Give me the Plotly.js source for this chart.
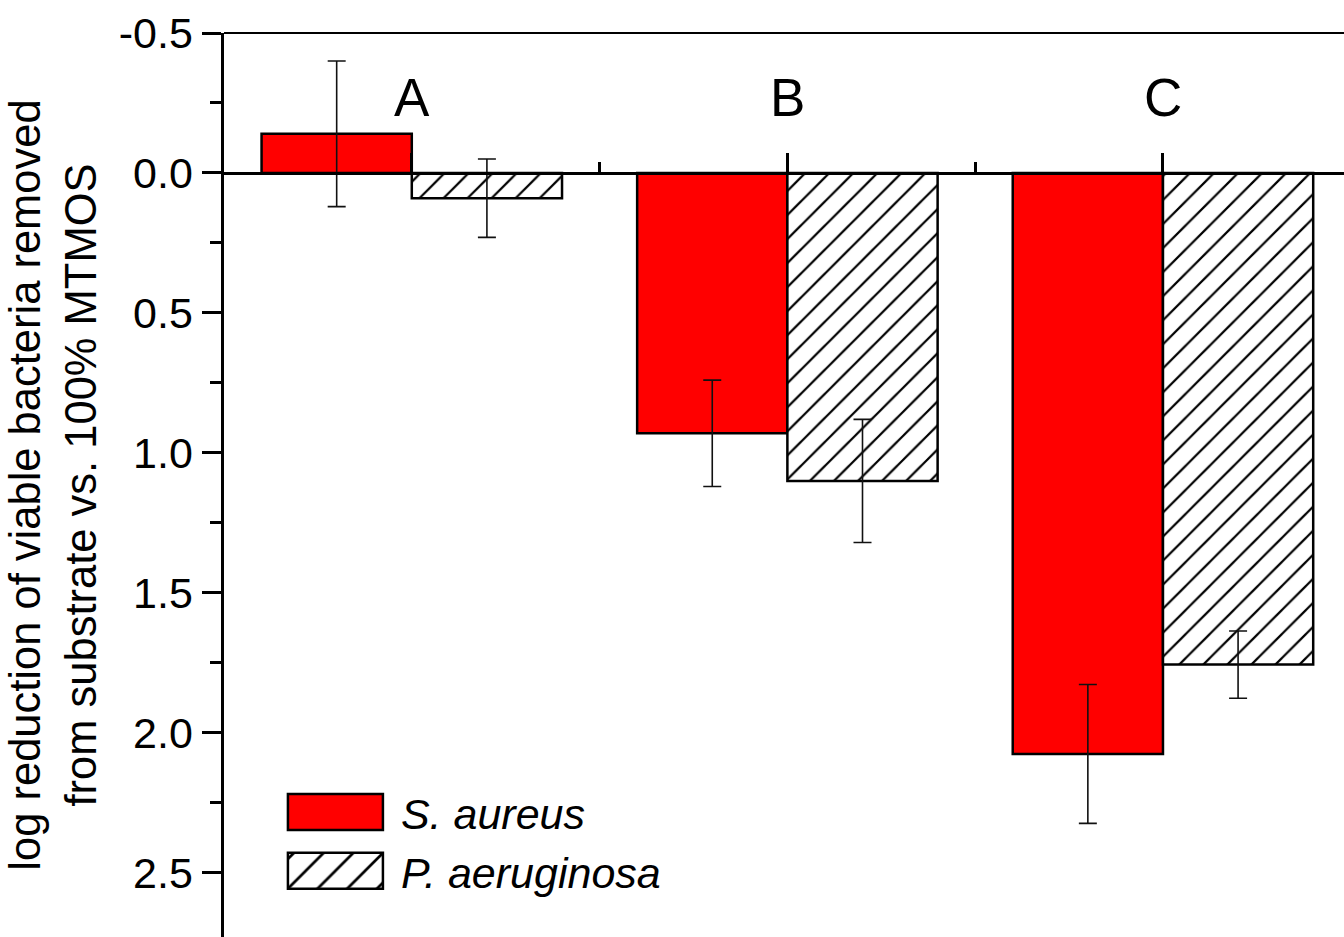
<!DOCTYPE html>
<html><head><meta charset="utf-8">
<script src="https://cdn.plot.ly/plotly-3.0.1.min.js"></script>
<style>html,body{margin:0;padding:0;background:#fff;} #chart{width:1344px;height:937px;}</style>
</head><body><div id="chart"></div>
<script>
const categories = ['A', 'B', 'C'];
const seriesNames = ['S. aureus', 'P. aeruginosa'];
const saureus = [-0.14, 0.93, 2.075];
const saureusErr = [0.26, 0.19, 0.248];
const paerug = [0.09, 1.10, 1.756];
const paerugErr = [0.14, 0.22, 0.12];
const yTickVals = [-0.5, 0, 0.5, 1, 1.5, 2, 2.5];
const yTickText = ['-0.5', '0.0', '0.5', '1.0', '1.5', '2.0', '2.5'];
const yMinorVals = [-0.25, 0.25, 0.75, 1.25, 1.75, 2.25];
const yTitle = 'log reduction of viable bacteria removed<br>from substrate vs. 100% MTMOS';

const FONT = 'Liberation Sans, Arial, sans-serif';
const xIdx = categories.map((c, i) => i);
const xMinorVals = categories.slice(1).map((c, i) => i + 0.5);
const yRange = [2.729, -0.5];
const zeroPos = (yRange[0] - 0) / (yRange[0] - yRange[1]);

const traces = [
  {
    type: 'bar', name: '<i>' + seriesNames[0] + '</i>', x: xIdx, y: saureus,
    marker: {color: '#ff0000', line: {color: '#000', width: 2.5}},
    error_y: {type: 'data', array: saureusErr, visible: true, color: '#111', thickness: 1.6, width: 9}
  },
  {
    type: 'bar', name: '<i>' + seriesNames[1] + '</i>', x: xIdx, y: paerug,
    marker: {color: '#ffffff', line: {color: '#000', width: 2.5},
      pattern: {shape: '/', fgcolor: '#000', bgcolor: '#ffffff', size: 17, solidity: 0.13}},
    error_y: {type: 'data', array: paerugErr, visible: true, color: '#111', thickness: 1.6, width: 9}
  }
];

const layout = {
  width: 1344, height: 937,
  margin: {l: 224, r: 0, t: 33, b: 0, pad: 0},
  paper_bgcolor: '#fff', plot_bgcolor: '#fff',
  font: {family: FONT, color: '#000', size: 43},
  barmode: 'group', bargap: 0.2, bargroupgap: 0,
  showlegend: true,
  legend: {x: 0.041, y: 0.1765, xanchor: 'left', yanchor: 'top', font: {family: FONT, size: 43, color: '#000'},
    itemwidth: 121, bgcolor: 'rgba(0,0,0,0)', borderwidth: 0, traceorder: 'normal'},
  xaxis: {
    type: 'linear', range: [-0.5, 2.482], autorange: false, anchor: 'free', position: zeroPos, side: 'top',
    showline: true, linewidth: 3, linecolor: '#000', showgrid: false, zeroline: false,
    tickmode: 'array', tickvals: xIdx, ticks: 'outside', ticklen: 19, tickwidth: 3, tickcolor: '#000',
    showticklabels: false,
    minor: {tickmode: 'array', tickvals: xMinorVals, ticks: 'outside', ticklen: 10, tickwidth: 3, tickcolor: '#000', showgrid: false}
  },
  yaxis: {
    range: yRange, autorange: false, automargin: false,
    showline: true, linewidth: 3.5, linecolor: '#000', showgrid: false, zeroline: false,
    tickmode: 'array', tickvals: yTickVals, ticktext: yTickText,
    ticks: 'outside', ticklen: 19, tickwidth: 3, tickcolor: '#000',
    tickfont: {family: FONT, size: 43, color: '#000'},
    minor: {tickmode: 'array', tickvals: yMinorVals, ticks: 'outside', ticklen: 11, tickwidth: 3, tickcolor: '#000', showgrid: false},
    title: {text: yTitle, font: {family: FONT, size: 43.5, color: '#000'}, standoff: 9}
  },
  shapes: [
    {type: 'line', xref: 'paper', yref: 'paper', x0: 0, x1: 1, y0: 1, y1: 1, line: {color: '#000', width: 2}}
  ],
  annotations: categories.map((c, i) => ({
    x: i, y: -0.27, xref: 'x', yref: 'y', text: c, showarrow: false,
    font: {family: FONT, size: 53, color: '#000'}, xanchor: 'center', yanchor: 'middle'
  }))
};

function bigSwatches() {
  gd.querySelectorAll('.legend .legendpoints path').forEach(function (p) {
    p.setAttribute('d', 'M47.5,18H-47.5V-18H47.5Z');
    const f = (p.style && p.style.fill) || p.getAttribute('fill') || window.getComputedStyle(p).fill || '';
    const m = /#([^"')\s]+)/.exec(f);
    if (m && f.indexOf('url') >= 0) {
      const pat = document.getElementById(m[1]);
      if (pat && !pat.getAttribute('data-scaled')) {
        pat.setAttribute('patternTransform', 'scale(2.1)');
        pat.setAttribute('data-scaled', '1');
      }
    }
  });
}

const gd = document.getElementById('chart');
Plotly.newPlot(gd, traces, layout, {displayModeBar: false, staticPlot: true}).then(function () {
  bigSwatches();
  setTimeout(bigSwatches, 50);
});
</script>
</body></html>
